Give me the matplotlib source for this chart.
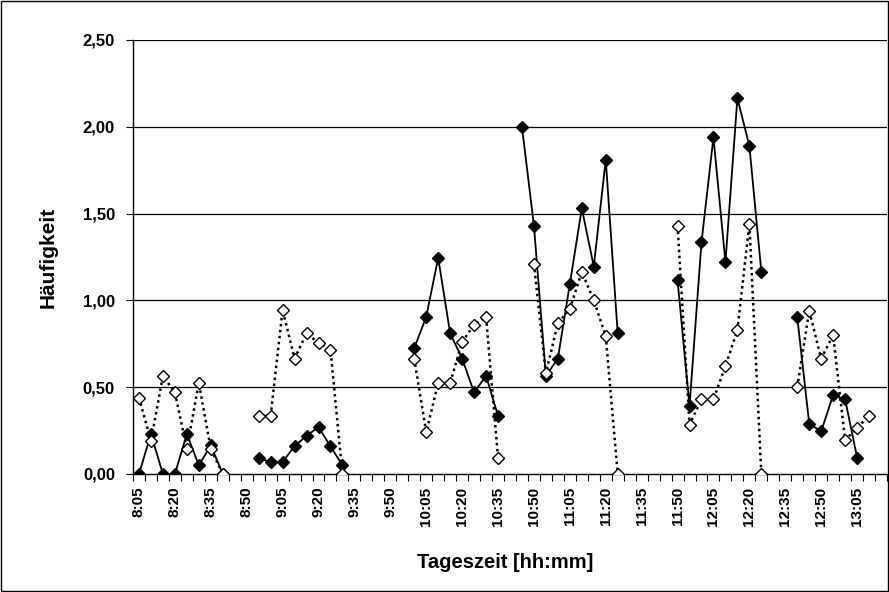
import numpy as np
import matplotlib
matplotlib.use("Agg")
import matplotlib.pyplot as plt
from matplotlib.patches import Rectangle

nan = np.nan

# categories: every 5 minutes from 8:05
start_min = 8 * 60 + 5
n_cat = 63
categories = [f"{(start_min + 5*i)//60}:{(start_min + 5*i)%60:02d}" for i in range(n_cat)]

series_filled = [
    0, 0.23, 0, 0, 0.23, 0.05, 0.165, 0,          # 8:05-8:40
    nan, nan,
    0.09, 0.07, 0.07, 0.16, 0.22, 0.27, 0.16, 0.05,  # 8:55-9:30
    nan, nan, nan, nan, nan,
    0.725, 0.905, 1.245, 0.81, 0.665, 0.47, 0.565, 0.335,  # 10:00-10:35
    nan,
    2.0, 1.43, 0.565, 0.665, 1.095, 1.53, 1.195, 1.81, 0.81,  # 10:45-11:25
    nan, nan, nan, nan,
    1.115, 0.39, 1.335, 1.94, 1.22, 2.165, 1.89, 1.165,  # 11:50-12:25
    nan, nan,
    0.905, 0.29, 0.245, 0.455, 0.43, 0.095,  # 12:40-13:05
    nan, nan,
]

series_open = [
    0.44, 0.19, 0.565, 0.47, 0.145, 0.525, 0.145, 0,
    nan, nan,
    0.335, 0.335, 0.945, 0.665, 0.81, 0.755, 0.715, 0,
    nan, nan, nan, nan, nan,
    0.665, 0.24, 0.525, 0.525, 0.76, 0.86, 0.905, 0.095,
    nan, nan,
    1.21, 0.58, 0.87, 0.95, 1.165, 1.0, 0.795, 0,
    nan, nan, nan, nan,
    1.43, 0.285, 0.43, 0.43, 0.62, 0.83, 1.44, 0,
    nan, nan,
    0.5, 0.94, 0.665, 0.8, 0.195, 0.265, 0.335,
    nan,
]

y_ticks = [0, 0.5, 1.0, 1.5, 2.0, 2.5]
y_ticklabels = ["0,00", "0,50", "1,00", "1,50", "2,00", "2,50"]

plt.rcParams['font.family'] = ['Liberation Sans', 'DejaVu Sans']
plt.rcParams['font.weight'] = 'bold'

fig = plt.figure(figsize=(8.89, 5.92), dpi=100)
ax = fig.add_axes([133/889, 1 - 474/592, (887 - 133)/889, (474 - 40)/592])

x = np.arange(n_cat)
ax.plot(x, series_filled, color='black', lw=1.3, marker='D', markersize=6.5,
        markerfacecolor='black', markeredgecolor='black', zorder=3)
ax.plot(x, series_open, color='black', lw=1.8, linestyle=(0, (1, 1.4)), marker='D',
        markersize=6.5, markerfacecolor='white', markeredgecolor='black',
        markeredgewidth=1.0, zorder=4)

ax.set_xlim(-0.5, n_cat - 0.5)
ax.set_ylim(0, 2.5)
ax.set_yticks(y_ticks)
ax.set_yticklabels(y_ticklabels, fontsize=12, fontweight='bold')
for yv in y_ticks[1:]:
    ax.axhline(yv, color='black', lw=0.9, zorder=1)

major_idx = list(range(0, 61, 3))
ax.set_xticks(major_idx)
ax.set_xticklabels([categories[i] for i in major_idx], rotation=90, fontsize=11,
                   fontweight='bold')
ax.set_xticks(np.arange(-0.5, n_cat, 1), minor=True)
ax.tick_params(axis='x', which='major', length=0, pad=9)
ax.tick_params(axis='x', which='minor', length=5, width=0.8, direction='out')
ax.tick_params(axis='y', which='major', length=5, width=0.8, direction='out', pad=8)

for s in ['top', 'right']:
    ax.spines[s].set_visible(False)
ax.spines['left'].set_linewidth(1.0)
ax.spines['bottom'].set_linewidth(1.0)

ax.set_ylabel("Häufigkeit", fontsize=15, fontweight='bold')
ax.yaxis.set_label_coords(48/889 - 133/889, 0.5, transform=fig.transFigure) if False else None
ax.yaxis.label.set_position((0, 0.5))
ax.set_xlabel("Tageszeit [hh:mm]", fontsize=14.5, fontweight='bold')
fig.canvas.draw()
# place axis labels at fixed figure positions
ax.yaxis.set_label_coords((48 - 133) / (887 - 133), (474 - 257) / (474 - 40))
ax.xaxis.set_label_coords((505 - 133) / (887 - 133), -(563 - 474) / (474 - 40))
ax.yaxis.label.set_va('center')
ax.xaxis.label.set_va('center')

fig.patches.append(Rectangle((1/889, 1/592), 887/889, 590/592, transform=fig.transFigure,
                             fill=False, edgecolor='black', lw=1.0))

fig.savefig("out.png", dpi=100, facecolor='white')
